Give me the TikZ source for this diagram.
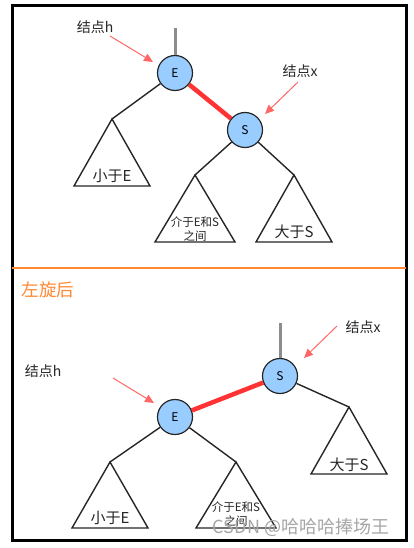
\documentclass[tikz,border=0pt]{standalone}
\usepackage{fontspec}
\setmainfont{Noto Sans CJK SC}
\usetikzlibrary{arrows.meta}
\definecolor{nodeblue}{HTML}{99CCFF}
\definecolor{linkred}{HTML}{FF3333}
\definecolor{arrowred}{HTML}{FF6666}
\definecolor{titleorange}{HTML}{FF8833}

\begin{document}
\begin{tikzpicture}[x=1pt,y=-1pt,
  rbnode/.style={circle,draw=black!85,line width=1.2pt,fill=nodeblue,minimum size=35pt,inner sep=0pt,font=\fontsize{12}{12}\selectfont},
  link/.style={draw=black!85,line width=1.4pt},
  redlink/.style={draw=linkred,line width=4.5pt},
  stub/.style={draw=black!45,line width=3pt},
  pointer/.style={draw=arrowred,line width=1pt,-{Triangle[length=9pt,width=8pt]}},
  hint/.style={text=black!85,font=\fontsize{14}{14}\selectfont},
  treetext/.style={text=black!85,font=\fontsize{15}{15}\selectfont},
  smalltext/.style={text=black!85,font=\fontsize{11.5}{13.5}\selectfont,align=center}]
\useasboundingbox (0,0) rectangle (413,548);
\fill[white] (0,0) rectangle (413,548);

% frame
\draw[line width=3pt] (12,5.5) rectangle (406,540);
\draw[titleorange,line width=2pt] (12,268) -- (406,268);

% before rotation
\node[rbnode] (E1) at (175,73) {E};
\node[rbnode] (S1) at (245,130) {S};
\coordinate (up1) at (175,28);
\draw[stub] (up1) -- (E1);
\draw[redlink] (E1) -- (S1);

\coordinate (t11) at (112,119);
\coordinate (t12) at (195,175);
\coordinate (t13) at (294,175);
\draw[link] (E1) -- (t11);
\draw[link] (S1) -- (t12);
\draw[link] (S1) -- (t13);
\draw[link] (t11) -- ++(-38,67) -- ++(76,0) -- cycle;
\draw[link] (t12) -- ++(-40,67) -- ++(80,0) -- cycle;
\draw[link] (t13) -- ++(-38,67) -- ++(76,0) -- cycle;
\node[treetext] (less1) at (112,176) {小于E};
\node[smalltext] (mid1) at (195,229) {介于E和S\\之间};
\node[treetext] (more1) at (294,232) {大于S};

\node[hint] (h1) at (95,27) {结点h};
\node[hint] (x1) at (300,71) {结点x};
\coordinate (hp1) at (110,36);
\coordinate (hq1) at (153,62);
\coordinate (xp1) at (298,82);
\coordinate (xq1) at (265,114);
\draw[pointer] (hp1) -- (hq1);
\draw[pointer] (xp1) -- (xq1);

% after rotation
\node[text=titleorange,font=\fontsize{17.5}{17.5}\selectfont] (title) at (48,290) {左旋后};

\node[rbnode] (S2) at (280,376) {S};
\node[rbnode] (E2) at (175,417) {E};
\coordinate (up2) at (280,323);
\draw[stub] (up2) -- (S2);
\draw[redlink] (E2) -- (S2);

\coordinate (t21) at (110,462);
\coordinate (t22) at (236,462);
\coordinate (t23) at (349,407);
\draw[link] (E2) -- (t21);
\draw[link] (E2) -- (t22);
\draw[link] (S2) -- (t23);
\draw[link] (t21) -- ++(-38,66) -- ++(76,0) -- cycle;
\draw[link] (t22) -- ++(-40,66) -- ++(80,0) -- cycle;
\draw[link] (t23) -- ++(-38,67) -- ++(76,0) -- cycle;
\node[treetext] (less2) at (110,518) {小于E};
\node[smalltext] (mid2) at (236,514) {介于E和S\\之间};
\node[treetext] (more2) at (349,465) {大于S};

\node[hint] (h2) at (43,371) {结点h};
\node[hint] (x2) at (363,327) {结点x};
\coordinate (hp2) at (113,378);
\coordinate (hq2) at (154,403);
\coordinate (xp2) at (337,326);
\coordinate (xq2) at (304,358);
\draw[pointer] (hp2) -- (hq2);
\draw[pointer] (xp2) -- (xq2);

% watermark
\node[text=black!35,font=\fontsize{18}{18}\selectfont] (mark) at (301,527) {CSDN @哈哈哈捧场王};
\end{tikzpicture}
\end{document}
